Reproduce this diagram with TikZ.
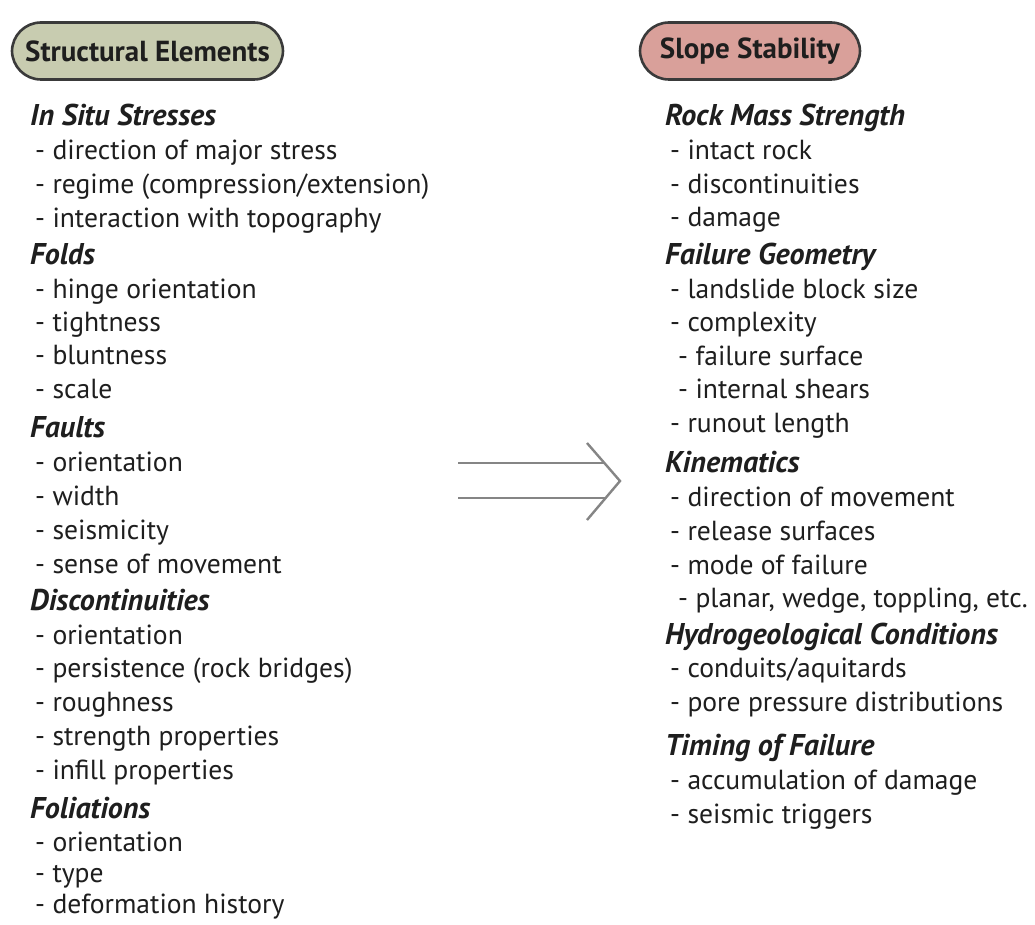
\documentclass[tikz,border=0pt]{standalone}
\usepackage{fontspec}
\setmainfont{PT Sans}
\definecolor{hdrgreen}{HTML}{C8CCB0}
\definecolor{hdrpink}{HTML}{D9A09A}
\definecolor{hdrline}{HTML}{3A3A3A}
\definecolor{txt}{HTML}{1E1E1E}
\definecolor{arrowgray}{HTML}{858585}
\begin{document}
\begin{tikzpicture}[x=1pt,y=-1pt,
  hdr/.style={draw=hdrline,line width=2.6pt,rounded corners=29pt,minimum height=57pt,inner sep=0pt,font=\fontsize{29}{32}\selectfont\bfseries,text=txt},
  head/.style={anchor=mid west,inner sep=0pt,font=\fontsize{30}{34}\selectfont\bfseries\itshape,text=txt},
  item/.style={anchor=mid west,inner sep=0pt,font=\fontsize{27.6}{32}\selectfont,text=txt},
  arr/.style={draw=arrowgray,line width=2.4pt}]
\useasboundingbox (0,0) rectangle (1035,925);
\fill[white] (0,0) rectangle (1035,925);
% headers
\node[hdr,fill=hdrgreen,minimum width=271pt] (hL) at (147.5,51) {Structural Elements};
\node[hdr,fill=hdrpink,minimum width=220pt] (hR) at (750,51) {Slope Stability};
% left column
\begin{scope}[yshift=-6pt]
\node[head] (l1) at (30,117) {In Situ Stresses};
\node[item] (l2) at (35,151) {- direction of major stress};
\node[item] (l3) at (35,185) {- regime (compression/extension)};
\node[item] (l4) at (35,219) {- interaction with topography};
\node[head] (l5) at (30,256) {Folds};
\node[item] (l6) at (35,290) {- hinge orientation};
\node[item] (l7) at (35,323) {- tightness};
\node[item] (l8) at (35,356) {- bluntness};
\node[item] (l9) at (35,390) {- scale};
\node[head] (l10) at (30,429) {Faults};
\node[item] (l11) at (35,463) {- orientation};
\node[item] (l12) at (35,497) {- width};
\node[item] (l13) at (35,531) {- seismicity};
\node[item] (l14) at (35,565) {- sense of movement};
\node[head] (l15) at (30,602) {Discontinuities};
\node[item] (l16) at (35,636) {- orientation};
\node[item] (l17) at (35,669) {- persistence (rock bridges)};
\node[item] (l18) at (35,703) {- roughness};
\node[item] (l19) at (35,737) {- strength properties};
\node[item] (l20) at (35,771) {- infill properties};
\node[head] (l21) at (30,810) {Foliations};
\node[item] (l22) at (35,843) {- orientation};
\node[item] (l23) at (35,874) {- type};
\node[item] (l24) at (35,905) {- deformation history};
% right column
\node[head] (r1) at (665,117) {Rock Mass Strength};
\node[item] (r2) at (670,151) {- intact rock};
\node[item] (r3) at (670,185) {- discontinuities};
\node[item] (r4) at (670,218) {- damage};
\node[head] (r5) at (665,256) {Failure Geometry};
\node[item] (r6) at (670,290) {- landslide block size};
\node[item] (r7) at (670,323) {- complexity};
\node[item] (r8) at (678,357) {- failure surface};
\node[item] (r9) at (678,390) {- internal shears};
\node[item] (r10) at (670,424) {- runout length};
\node[head] (r11) at (665,464) {Kinematics};
\node[item] (r12) at (670,498) {- direction of movement};
\node[item] (r13) at (670,532) {- release surfaces};
\node[item] (r14) at (670,566) {- mode of failure};
\node[item] (r15) at (678,599) {- planar, wedge, toppling, etc.};
\node[head] (r16) at (665,636) {Hydrogeological Conditions};
\node[item] (r17) at (670,669) {- conduits/aquitards};
\node[item] (r18) at (670,703) {- pore pressure distributions};
\node[head] (r19) at (665,747) {Timing of Failure};
\node[item] (r20) at (670,781) {- accumulation of damage};
\node[item] (r21) at (670,815) {- seismic triggers};
\end{scope}
% arrow
\coordinate (a1s) at (458,463);
\coordinate (a1e) at (605,463);
\coordinate (a2s) at (458,498);
\coordinate (a2e) at (605,498);
\coordinate (cT) at (587,443);
\coordinate (cM) at (620,481);
\coordinate (cB) at (587,520);
\draw[arr] (a1s) -- (a1e);
\draw[arr] (a2s) -- (a2e);
\draw[arr,line join=miter] (cT) -- (cM) -- (cB);
\end{tikzpicture}
\end{document}
